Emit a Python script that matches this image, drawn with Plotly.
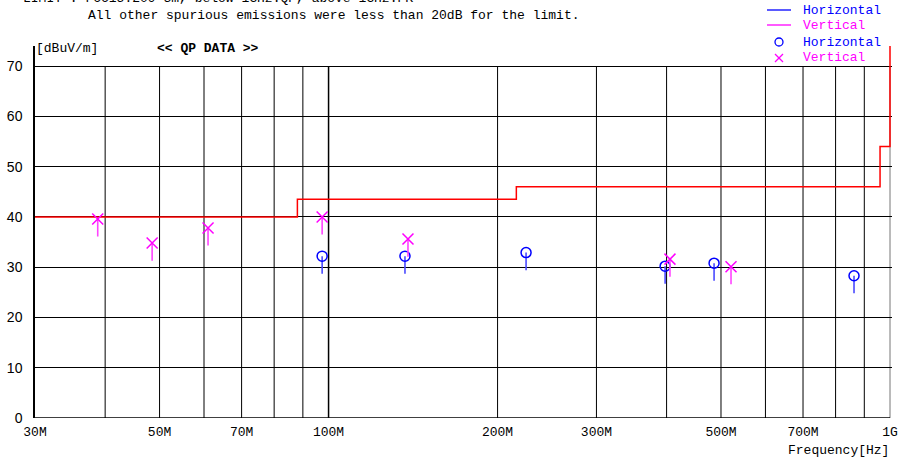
import plotly.graph_objects as go
import math

# ---------------- data ----------------
limit_freq_mhz = [30, 88, 88, 216, 216, 960, 960, 1000, 1000]
limit_level = [40, 40, 43.5, 43.5, 46, 46, 54, 54, 74]

vert_freq_mhz = [38.8, 48.5, 61.0, 97.4, 138.5, 405.6, 521.0]
vert_level = [39.6, 34.8, 37.8, 40.0, 35.6, 31.6, 30.1]

horiz_freq_mhz = [97.4, 136.8, 224.8, 397.6, 486.0, 862.8]
horiz_level = [32.2, 32.2, 32.9, 30.2, 30.8, 28.3]

x_tickvals = [30, 50, 70, 100, 200, 300, 500, 700, 1000]
x_ticktext = ["30M", "50M", "70M", "100M", "200M", "300M", "500M", "700M", "1G"]
x_grid = [40, 50, 60, 70, 80, 90, 100, 200, 300, 400, 500, 600, 700, 800, 900, 1000]
y_tickvals = [0, 10, 20, 30, 40, 50, 60, 70]

# ---------------- style ----------------
W, H = 901, 463
L, R, T, B = 35, 9, 46, 45
PW, PH = W - L - R, H - T - B
DEC_PX = 855 / math.log10(1000 / 30)          # pixels per decade
X_END = math.log10(30) + PW / DEC_PX          # a hair past 1G so edge lines show
STICK_DB = 3.5
MONO = "Liberation Mono"
BLUE = "#0000ff"
MAG = "#ff00ff"


def px(x):
    return (x - L) / PW


def py(y):
    return (H - B - y) / PH


fig = go.Figure()

fig.add_trace(go.Scatter(
    x=limit_freq_mhz, y=limit_level, mode="lines",
    line=dict(color="#ff0000", width=1.5), hoverinfo="skip", showlegend=False))

fig.add_trace(go.Scatter(
    x=horiz_freq_mhz, y=horiz_level, mode="markers",
    marker=dict(symbol="circle-open", size=10, color=BLUE, line=dict(width=1.5, color=BLUE)),
    error_y=dict(type="constant", symmetric=False, value=0, valueminus=STICK_DB,
                 width=0, thickness=1.6, color="#4a4aff"),
    showlegend=False))

fig.add_trace(go.Scatter(
    x=vert_freq_mhz, y=vert_level, mode="markers",
    marker=dict(symbol="x-thin-open", size=11, color=MAG, line=dict(width=1.5, color=MAG)),
    error_y=dict(type="constant", symmetric=False, value=0, valueminus=STICK_DB,
                 width=0, thickness=1.6, color="#ff44ff"),
    showlegend=False))

shapes = []
for f in x_grid:
    shapes.append(dict(type="line", xref="x", yref="y", x0=f, x1=f, y0=0, y1=70,
                       line=dict(color="#000000" if f != 1000 else "#777777",
                                 width=1.5 if f == 100 else 1), layer="below"))

# manual legend
lx0, lx1 = px(767), px(791)
rows = [(10, "Horizontal", BLUE, "line"), (25, "Vertical", MAG, "line"),
        (42, "Horizontal", BLUE, "circle"), (58, "Vertical", MAG, "x")]
annotations = []
for ypix, label, col, kind in rows:
    annotations.append(dict(xref="paper", yref="paper", x=px(801), y=py(ypix),
                            xanchor="left", yanchor="middle", showarrow=False,
                            text=label, font=dict(family=MONO, size=13, color=col)))
    if kind == "line":
        shapes.append(dict(type="line", xref="paper", yref="paper", x0=lx0, x1=lx1,
                           y0=py(ypix), y1=py(ypix), line=dict(color=col, width=1.3)))
    elif kind == "circle":
        shapes.append(dict(type="circle", xref="paper", yref="paper",
                           x0=px(775), x1=px(783), y0=py(ypix - 4), y1=py(ypix + 4),
                           line=dict(color=col, width=1.3)))
    else:
        shapes.append(dict(type="line", xref="paper", yref="paper",
                           x0=px(775), x1=px(783), y0=py(ypix - 4), y1=py(ypix + 4),
                           line=dict(color=col, width=1.2)))
        shapes.append(dict(type="line", xref="paper", yref="paper",
                           x0=px(775), x1=px(783), y0=py(ypix + 4), y1=py(ypix - 4),
                           line=dict(color=col, width=1.2)))

annotations += [
    dict(xref="paper", yref="paper", x=px(21), y=py(-1), xanchor="left", yanchor="middle",
         showarrow=False, text="LIMIT : FCC15.209 3m, below 1GHz:QP, above 1GHz:PK",
         font=dict(family=MONO, size=13, color="black")),
    dict(xref="paper", yref="paper", x=px(86), y=py(15), xanchor="left", yanchor="middle",
         showarrow=False, text="All other spurious emissions were less than 20dB for the limit.",
         font=dict(family=MONO, size=13, color="black")),
    dict(xref="paper", yref="paper", x=px(34), y=py(48), xanchor="left", yanchor="middle",
         showarrow=False, text="[dBuV/m]", font=dict(family=MONO, size=13, color="black")),
    dict(xref="paper", yref="paper", x=px(155), y=py(48), xanchor="left", yanchor="middle",
         showarrow=False, text="<b>&lt;&lt; QP DATA &gt;&gt;</b>",
         font=dict(family=MONO, size=13, color="black")),
    dict(xref="paper", yref="paper", x=px(891), y=py(451), xanchor="right", yanchor="middle",
         showarrow=False, text="Frequency[Hz]", font=dict(family=MONO, size=13, color="black")),
]

fig.update_layout(
    width=W, height=H,
    margin=dict(l=L, r=R, t=T, b=B, pad=0, autoexpand=False),
    paper_bgcolor="white", plot_bgcolor="white",
    showlegend=False,
    shapes=shapes, annotations=annotations,
    xaxis=dict(type="log", range=[math.log10(30), X_END],
               tickvals=x_tickvals, ticktext=x_ticktext, showgrid=False,
               showline=False, ticks="",
               ticklabelstandoff=4, zeroline=False, automargin=False,
               tickfont=dict(family=MONO, size=13, color="black")),
    yaxis=dict(range=[0, 74], tickvals=y_tickvals, showgrid=True, gridcolor="black",
               gridwidth=1, showline=True, linecolor="black", linewidth=1.5, ticks="",
               ticklabelstandoff=8, zeroline=False, automargin=False,
               tickfont=dict(family="Liberation Sans", size=14, color="black")),
)
# bottom axis line from 30M to 1G
fig.add_shape(type="line", xref="x", yref="y", x0=30, x1=1000, y0=0, y1=0,
              line=dict(color="black", width=1.5))

fig.write_html("out.html", config={"displayModeBar": False},
               post_script="document.body.style.margin='0';document.body.style.overflow='hidden';")
